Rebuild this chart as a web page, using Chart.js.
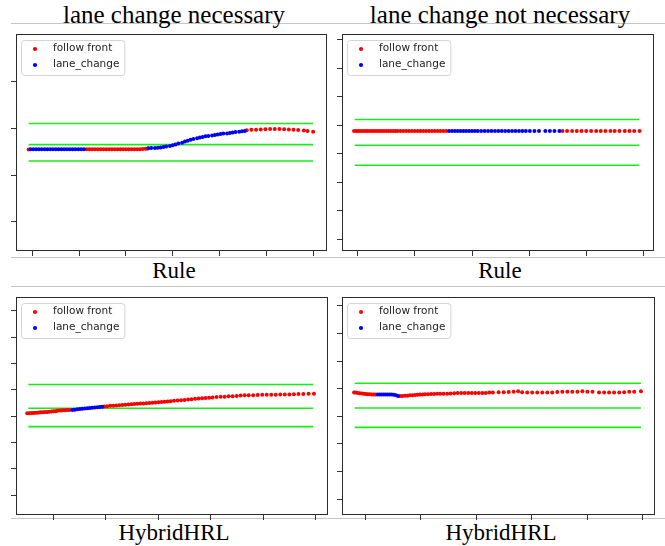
<!DOCTYPE html>
<html><head><meta charset="utf-8">
<script src="https://cdn.jsdelivr.net/npm/chart.js@4.4.1/dist/chart.umd.min.js"></script>
<style>
html,body{margin:0;padding:0;background:#fff;}
#wrap{position:relative;width:665px;height:546px;overflow:hidden;background:#fff;}
.sep{position:absolute;left:11px;width:654px;height:1px;background:#c6c6c6;}
.cap{position:absolute;font-family:"Liberation Serif","Times New Roman",serif;color:#000;white-space:nowrap;transform:translateX(-50%);line-height:1;}
canvas{position:absolute;}
</style></head>
<body>
<div id="wrap">
  <div class="sep" style="top:23px"></div>
  <div class="sep" style="top:257px"></div>
  <div class="sep" style="top:286px"></div>
  <div class="sep" style="top:518px"></div>
  <div class="cap" style="left:174px;top:2px;font-size:25px">lane change necessary</div>
  <div class="cap" style="left:500px;top:2px;font-size:25px">lane change not necessary</div>
  <div class="cap" style="left:174px;top:259px;font-size:23px">Rule</div>
  <div class="cap" style="left:500px;top:259px;font-size:23px">Rule</div>
  <div class="cap" style="left:174px;top:521px;font-size:23px">HybridHRL</div>
  <div class="cap" style="left:501px;top:521px;font-size:23px">HybridHRL</div>
  <canvas id="p1"></canvas>
  <canvas id="p2"></canvas>
  <canvas id="p3"></canvas>
  <canvas id="p4"></canvas>
</div>
<script>
// ---------- data ----------
const seriesNames = ['follow front', 'lane_change'];
const laneY = [0.2, -0.7, -1.4];

// Rule, lane change necessary
const ruleNecFollowX = [-4, 58, 61, 64, 67, 70, 73, 76, 79, 82, 85, 88, 91, 94, 97, 100, 103, 106, 109, 112, 115, 118, 121, 123,
  229, 234, 239, 244, 249, 254, 259, 264, 269, 274, 279, 284, 290, 294, 300];
const ruleNecFollowY = [-0.91, -0.90, -0.90, -0.90, -0.90, -0.90, -0.90, -0.90, -0.90, -0.90, -0.90, -0.90, -0.90, -0.90, -0.90, -0.90, -0.90, -0.90, -0.90, -0.90, -0.90, -0.89, -0.88, -0.87,
  -0.09, -0.07, -0.06, -0.05, -0.04, -0.03, -0.03, -0.03, -0.04, -0.05, -0.06, -0.08, -0.10, -0.12, -0.15];
const ruleNecLaneX = [-2, 1, 4, 7, 10, 13, 16, 19, 22, 25, 28, 31, 34, 37, 40, 43, 46, 49, 52, 55,
  124, 127, 131, 134, 137, 140, 143, 147, 150, 153, 156, 160, 163, 166, 169, 172, 176, 179, 182, 185, 188, 192, 195, 198, 201, 204, 208, 211, 214, 217, 221, 224, 227];
const ruleNecLaneY = [-0.90, -0.90, -0.90, -0.90, -0.90, -0.90, -0.90, -0.90, -0.90, -0.90, -0.90, -0.90, -0.90, -0.90, -0.90, -0.90, -0.90, -0.90, -0.90, -0.90,
  -0.86, -0.85, -0.84, -0.83, -0.82, -0.80, -0.78, -0.76, -0.73, -0.70, -0.65, -0.62, -0.57, -0.53, -0.49, -0.46, -0.43, -0.40, -0.37, -0.34, -0.33, -0.31, -0.29, -0.27, -0.25, -0.23, -0.22, -0.20, -0.18, -0.16, -0.15, -0.13, -0.12];
const ruleNecLaneSpan = [-4, 300];
const ruleNecXTicks = [0, 50, 100, 150, 200, 250, 300];
const ruleNecYTicks = [-4, -2, 0, 2];

// Rule, lane change not necessary
const ruleNotFollowX = [-3, -1, 1, 3, 5, 7, 9, 11, 13, 15, 17, 19, 21, 23, 25, 27, 29, 31, 33, 35, 37.5, 40, 42.5, 45, 47.5, 50, 52.5, 55, 57.5, 60, 62.5, 65, 67.5, 70, 72.5, 75, 77.5,
  179, 183, 187.4, 191.5, 195.6, 199.7, 204, 208.4, 212.4, 216.5, 220.9, 224.6, 228.8, 233.4, 237.5, 241.6, 246.3];
const ruleNotFollowY = [-0.20, -0.20, -0.20, -0.20, -0.20, -0.20, -0.20, -0.20, -0.20, -0.20, -0.20, -0.20, -0.20, -0.20, -0.20, -0.20, -0.20, -0.20, -0.20, -0.20, -0.20, -0.20, -0.20, -0.20, -0.20, -0.20, -0.20, -0.20, -0.20, -0.20, -0.20, -0.20, -0.20, -0.20, -0.20, -0.20, -0.20,
  -0.20, -0.20, -0.20, -0.20, -0.20, -0.20, -0.20, -0.20, -0.20, -0.20, -0.20, -0.20, -0.20, -0.20, -0.20, -0.20, -0.20];
const ruleNotLaneX = [80, 82.5, 85, 87.5, 90, 92.5, 95, 97.5, 100, 102.5, 105, 108, 111, 114, 117, 120, 123, 126, 129, 132, 135, 138, 141, 144, 147, 150.5, 154.5, 158.5, 164, 168, 172, 176.3];
const ruleNotLaneY = [-0.20, -0.20, -0.20, -0.20, -0.20, -0.20, -0.20, -0.20, -0.20, -0.20, -0.20, -0.20, -0.20, -0.20, -0.20, -0.20, -0.20, -0.20, -0.20, -0.20, -0.20, -0.20, -0.20, -0.20, -0.20, -0.20, -0.20, -0.20, -0.20, -0.20, -0.20, -0.20];
const ruleNotLaneSpan = [-2.4, 246];
const ruleNotXTicks = [0, 50, 100, 150, 200, 250];
const ruleNotYTicks = [-4, -3, -2, -1, 0, 1, 2, 3];

// HybridHRL, lane change necessary
const hrlNecFollowX = [25, 27, 29, 31, 32.5, 34.5, 36.5, 38, 40, 42, 44, 46, 48, 50, 52, 53.5, 55.5, 57.5, 59, 61, 63, 65,
  98.5, 101.3, 104.2, 107.1, 109.9, 112.8, 115.7, 118.5, 121.4, 124.3, 127.1, 130, 132.9, 135.8, 138.6, 141.5, 144.4, 147.2, 150.1, 153,
  155.8, 158.7, 161.6, 164.9, 168.3, 171.6, 174.9, 178.3, 181.6, 185, 188.3, 191.7, 195, 198.4, 201.7, 205.5, 209.4, 213.2, 217, 220.8,
  224.7, 228.5, 232.3, 236.1, 240.4, 244.7, 249, 253.3, 257.6, 261.9, 266.2, 270.5, 274.9, 279.2, 283.5, 288.2, 293.2, 298.3];
const hrlNecFollowY = [-0.89, -0.89, -0.88, -0.88, -0.87, -0.87, -0.86, -0.85, -0.85, -0.84, -0.84, -0.83, -0.82, -0.81, -0.81, -0.80, -0.79, -0.79, -0.78, -0.78, -0.77, -0.77,
  -0.63, -0.62, -0.61, -0.61, -0.60, -0.59, -0.58, -0.57, -0.56, -0.55, -0.54, -0.53, -0.52, -0.52, -0.51, -0.50, -0.49, -0.48, -0.47, -0.46,
  -0.45, -0.44, -0.43, -0.42, -0.41, -0.40, -0.39, -0.37, -0.36, -0.34, -0.33, -0.32, -0.31, -0.30, -0.29, -0.27, -0.26, -0.26, -0.24, -0.24,
  -0.23, -0.22, -0.21, -0.21, -0.21, -0.20, -0.19, -0.19, -0.19, -0.19, -0.18, -0.18, -0.18, -0.17, -0.16, -0.16, -0.15, -0.15];
const hrlNecLaneX = [67.9, 70.3, 72.7, 75.1, 77.4, 79.8, 82.2, 84.6, 87, 89.4, 91.8, 94.2, 96.6];
const hrlNecLaneY = [-0.77, -0.76, -0.74, -0.73, -0.72, -0.71, -0.70, -0.69, -0.68, -0.67, -0.66, -0.65, -0.64];
const hrlNecLaneSpan = [26.1, 297.6];
const hrlNecXTicks = [50, 100, 150, 200, 250, 300];
const hrlNecYTicks = [-4, -3, -2, -1, 0, 1, 2, 3];

// HybridHRL, lane change not necessary
const hrlNotFollowX = [-10.3, -8.8, -7, -5.2, -3.4, -1.5, 0.3, 2.1, 3.9, 5.7, 7.5, 9.3,
  31.1, 33.3, 35.6, 37.9, 40.1, 42.4, 44.7, 46.9, 49.2, 51.5, 53.7, 56.4, 59.2, 61.9, 64.6, 67.3,
  70.5, 73.7, 76.8, 80, 83.2, 86.3, 89.5, 92.7, 95.9, 99, 102.2, 105.4, 108.5, 111.7, 114.9,
  120.1, 124.7, 129.2, 133.7, 137.7, 141.3, 145.9, 150.4, 154.9, 159.5, 164, 168.5, 173, 177.6, 182.1, 186.6, 191.2, 195.7, 200.2, 204.8,
  210.7, 215.3, 219.8, 224.3, 228.9, 233.4, 237.9, 242.4, 248.5];
const hrlNotFollowY = [-0.14, -0.14, -0.15, -0.16, -0.17, -0.18, -0.19, -0.20, -0.20, -0.21, -0.21, -0.21,
  -0.26, -0.26, -0.25, -0.25, -0.24, -0.24, -0.23, -0.22, -0.21, -0.21, -0.20, -0.20, -0.19, -0.19, -0.18, -0.18,
  -0.18, -0.18, -0.17, -0.16, -0.15, -0.15, -0.15, -0.15, -0.15, -0.15, -0.15, -0.15, -0.15, -0.14, -0.14,
  -0.13, -0.13, -0.12, -0.11, -0.09, -0.13, -0.14, -0.14, -0.14, -0.14, -0.14, -0.14, -0.12, -0.11, -0.11, -0.11, -0.11, -0.09, -0.11, -0.11,
  -0.14, -0.14, -0.14, -0.14, -0.14, -0.13, -0.11, -0.11, -0.09];
const hrlNotLaneX = [11.1, 13, 14.8, 16.6, 18.4, 20.2, 22, 23.8, 25.6, 27.5, 29.3];
const hrlNotLaneY = [-0.21, -0.21, -0.21, -0.21, -0.21, -0.21, -0.21, -0.21, -0.22, -0.24, -0.26];
const hrlNotLaneSpan = [-9.7, 248.5];
const hrlNotXTicks = [0, 50, 100, 150, 200, 250];
const hrlNotYTicks = [-4, -3, -2, -1, 0, 1, 2, 3];

// ---------- helpers ----------
const zip = (xs, ys) => xs.map((x, i) => ({x: x, y: ys[i]}));

const framePlugin = {
  id: 'frame',
  afterDatasetsDraw(chart) {
    const a = chart.chartArea, ctx = chart.ctx;
    ctx.save();
    ctx.strokeStyle = '#2b2b2b';
    ctx.lineWidth = 1;
    ctx.strokeRect(a.left + 0.5, a.top + 0.5, a.right - a.left - 1, a.bottom - a.top - 1);
    ctx.restore();
  }
};

const boxLegendPlugin = {
  id: 'boxLegend',
  afterDraw(chart) {
    const a = chart.chartArea, ctx = chart.ctx;
    const items = chart.data.datasets.filter(d => d.legendRank !== undefined)
      .sort((p, q) => p.legendRank - q.legendRank);
    ctx.save();
    ctx.font = '10.5px "DejaVu Sans"';
    const tw = Math.max(...items.map(d => ctx.measureText(d.label).width));
    const bx = a.left + 5, by = a.top + 6, bw = 32 + tw + 5, bh = 35;
    ctx.beginPath();
    ctx.roundRect(bx + 0.5, by + 0.5, bw, bh, 3);
    ctx.fillStyle = 'rgba(255,255,255,0.85)';
    ctx.fill();
    ctx.strokeStyle = '#d4d4d4';
    ctx.lineWidth = 1;
    ctx.stroke();
    items.forEach((d, i) => {
      const cy = by + 9 + i * 16;
      ctx.fillStyle = d.backgroundColor;
      ctx.beginPath();
      ctx.arc(bx + 14, cy, 2.1, 0, Math.PI * 2);
      ctx.fill();
      ctx.fillStyle = '#222';
      ctx.textBaseline = 'middle';
      ctx.fillText(d.label, bx + 32, cy - 0.5);
    });
    ctx.restore();
  }
};

function axis(pos, min, max, ticks) {
  return {
    type: 'linear', position: pos, min: min, max: max,
    afterBuildTicks: s => { s.ticks = ticks.map(v => ({value: v})); },
    ticks: {display: false},
    grid: {display: true, drawOnChartArea: false, drawTicks: true, tickLength: 5, color: '#333', tickWidth: 1},
    border: {display: false}
  };
}

function makePanel(id, frame, p) {
  const [L, T, R, B] = frame;
  const canvas = document.getElementById(id);
  const cl = L - 8, ct = T - 3;
  const cw = (R + 1) - cl + 3, ch = (B + 1) - ct + 8;
  canvas.style.left = cl + 'px';
  canvas.style.top = ct + 'px';
  canvas.width = cw; canvas.height = ch;
  canvas.style.width = cw + 'px'; canvas.style.height = ch + 'px';
  const dotStyle = {pointRadius: 2, pointBorderWidth: 0, borderWidth: 0, pointHoverRadius: 2};
  const datasets = [
    Object.assign({label: seriesNames[1], data: zip(p.laneX, p.laneY), backgroundColor: '#0000ff', borderColor: '#0000ff', order: 0, legendRank: 1}, dotStyle),
    Object.assign({label: seriesNames[0], data: zip(p.followX, p.followY), backgroundColor: '#ff0000', borderColor: '#ff0000', order: 1, legendRank: 0}, dotStyle)
  ];
  laneY.forEach(y => {
    datasets.push({label: 'lane line', data: [{x: p.span[0], y: y}, {x: p.span[1], y: y}], showLine: true,
      pointRadius: 0, borderColor: '#16ec16', borderWidth: 1.6, order: 5});
  });
  new Chart(canvas, {
    type: 'scatter',
    data: {datasets: datasets},
    options: {
      responsive: false, animation: false, devicePixelRatio: 1,
      layout: {padding: {left: 3, top: 3, right: 3, bottom: 3}},
      plugins: {legend: {display: false}, tooltip: {enabled: false}},
      scales: {
        x: axis('bottom', p.xRange[0], p.xRange[1], p.xTicks),
        y: axis('left', p.yRange[0], p.yRange[1], p.yTicks)
      }
    },
    plugins: [framePlugin, boxLegendPlugin]
  });
}

makePanel('p1', [16, 34, 326, 250], {followX: ruleNecFollowX, followY: ruleNecFollowY, laneX: ruleNecLaneX, laneY: ruleNecLaneY,
  span: ruleNecLaneSpan, xTicks: ruleNecXTicks, yTicks: ruleNecYTicks, xRange: [-17.5, 314.8], yRange: [-5.25, 4.03]});
makePanel('p2', [342, 34, 653, 250], {followX: ruleNotFollowX, followY: ruleNotFollowY, laneX: ruleNotLaneX, laneY: ruleNotLaneY,
  span: ruleNotLaneSpan, xTicks: ruleNotXTicks, yTicks: ruleNotYTicks, xRange: [-13.5, 258.9], yRange: [-4.40, 3.19]});
makePanel('p3', [16, 297, 327, 514], {followX: hrlNecFollowX, followY: hrlNecFollowY, laneX: hrlNecLaneX, laneY: hrlNecLaneY,
  span: hrlNecLaneSpan, xTicks: hrlNecXTicks, yTicks: hrlNecYTicks, xRange: [14.3, 311.7], yRange: [-4.76, 3.53]});
makePanel('p4', [342, 297, 654, 514], {followX: hrlNotFollowX, followY: hrlNotFollowY, laneX: hrlNotLaneX, laneY: hrlNotLaneY,
  span: hrlNotLaneSpan, xTicks: hrlNotXTicks, yTicks: hrlNotYTicks, xRange: [-21.2, 261.2], yRange: [-4.57, 3.32]});
</script>
</body></html>
